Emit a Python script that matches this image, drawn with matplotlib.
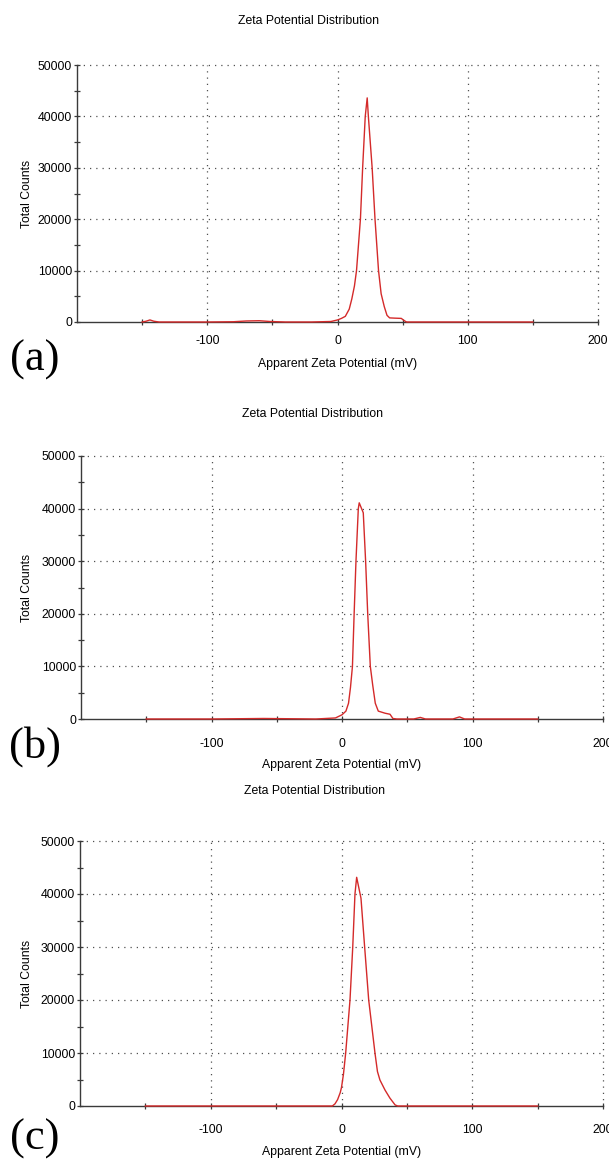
import matplotlib
matplotlib.use("Agg")
import matplotlib.pyplot as plt
import numpy as np

plt.rcParams['font.family'] = ['Liberation Sans Narrow', 'Liberation Sans', 'DejaVu Sans']

# ---------------- data ----------------
title_text = "Zeta Potential Distribution"
xlabel_text = "Apparent Zeta Potential (mV)"
ylabel_text = "Total Counts"
panel_labels = ["(a)", "(b)", "(c)"]

x_major = [-150, -100, -50, 0, 50, 100, 150, 200]
x_ticklabels = ["", "-100", "", "0", "", "100", "", "200"]
y_major = [0, 10000, 20000, 30000, 40000, 50000]
y_minor = [5000, 15000, 25000, 35000, 45000]
x_grid = [-100, 0, 100, 200]
y_grid = [10000, 20000, 30000, 40000, 50000]

# panel (a)
a_mv = [-150, -147, -144, -141, -137, -120, -100, -80, -70, -60, -52, -40, -20, -5,
        0, 3, 6, 9, 11, 13, 14.6, 17.6, 19.3, 21.3, 22.8, 23.7, 26.6, 28.8, 31.5,
        33.5, 35.9, 38, 40, 44, 49, 51, 53, 70, 100, 130, 150]
a_counts = [0, 150, 400, 150, 0, 0, 0, 50, 200, 250, 100, 0, 0, 100,
            400, 700, 1100, 2500, 4500, 7000, 10000, 20000, 30000, 40000, 43600, 40000, 30000, 20000, 10000,
            5500, 3000, 1300, 800, 750, 700, 300, 0, 0, 0, 0, 0]

# panel (b)
b_mv = [-150, -120, -100, -60, -20, -5, 0, 3, 5, 6.5, 8, 9.3, 10.7, 12.5, 13.2, 16.3,
        18.1, 19.7, 21.7, 23.5, 25.5, 27.8, 33, 36.8, 39, 42, 55, 60, 64, 85, 90, 94, 120, 150]
b_counts = [0, 0, 0, 100, 0, 200, 800, 1500, 3000, 6000, 10000, 20000, 30000, 40000, 41100, 39200,
            30000, 20000, 10000, 6500, 3000, 1500, 1100, 900, 100, 0, 0, 300, 0, 0, 400, 0, 0, 0]

# panel (c)
c_mv = [-150, -100, -50, -7, -5, -3, -1, 0, 1.5, 3.2, 6.5, 8.6, 10.3, 11.6, 14.9, 17.7,
        20.8, 25.6, 27.5, 29.4, 33.3, 37, 41, 43, 80, 120, 150]
c_counts = [0, 0, 0, 0, 400, 1200, 2500, 3500, 6000, 10000, 20000, 30000, 40000, 43150, 39200, 30000,
            20000, 10000, 6500, 4900, 3000, 1500, 200, 0, 0, 0, 0]

series = [(a_mv, a_counts), (b_mv, b_counts), (c_mv, c_counts)]

# ---------------- layout (pixel geometry of the reference) ----------------
W, H = 609, 1162
# left, right, top, bottom (pixels from top-left)
boxes = [(77, 598, 65, 322), (81, 603, 456, 719), (80, 603, 841, 1106)]
title_y = [21, 414, 791]
title_x = [309, 312, 314]
xlabel_y = [364, 765, 1152]
panel_y = [360, 747, 1139]
xtick_pad = [6.5, 11, 10.5]
fs = 8.8

line_color = '#d42a2a'
axis_color = '#3a3a3a'
grid_color = '#505050'

fig = plt.figure(figsize=(W / 100, H / 100), dpi=100)
fig.patch.set_facecolor('white')

for i, ((x0, x1, y0, y1), (mv, cnt)) in enumerate(zip(boxes, series)):
    ax = fig.add_axes([x0 / W, 1 - y1 / H, (x1 - x0) / W, (y1 - y0) / H])
    ax.set_xlim(-200, 200)
    ax.set_ylim(0, 50000)

    for gx in x_grid:
        ax.axvline(gx, color=grid_color, lw=0.9, linestyle=(0, (1, 4)), clip_on=False, zorder=1)
    for gy in y_grid:
        ax.axhline(gy, color=grid_color, lw=0.9, linestyle=(0, (1, 4)), clip_on=False, zorder=1)

    ax.plot(mv, cnt, color=line_color, lw=1.0, zorder=4, clip_on=False)

    for s in ['top', 'right']:
        ax.spines[s].set_visible(False)
    for s in ['left', 'bottom']:
        ax.spines[s].set_color(axis_color)
        ax.spines[s].set_linewidth(1.0)
        ax.spines[s].set_zorder(3)

    ax.set_xticks(x_major)
    ax.set_xticklabels(x_ticklabels)
    ax.set_yticks(y_major)
    ax.set_yticklabels([str(v) for v in y_major])
    ax.set_yticks(y_minor, minor=True)
    ax.tick_params(axis='x', which='major', direction='inout', length=5, width=0.9,
                   color=axis_color, labelsize=fs, pad=xtick_pad[i])
    ax.tick_params(axis='y', which='major', direction='inout', length=4, width=0.9,
                   color=axis_color, labelsize=fs, pad=1.5)
    ax.tick_params(axis='y', which='minor', direction='inout', length=4, width=0.9,
                   color=axis_color)

    pw = x1 - x0
    ph = y1 - y0
    ax.set_title(title_text, fontsize=fs, x=(title_x[i] - x0) / pw,
                 y=(y1 - title_y[i]) / ph, va='center', pad=0)
    ax.set_xlabel(xlabel_text, fontsize=fs)
    ax.xaxis.set_label_coords(0.5, (y1 - xlabel_y[i]) / ph)
    ax.xaxis.label.set_verticalalignment('center')
    ax.set_ylabel(ylabel_text, fontsize=fs)
    ax.yaxis.set_label_coords((27 - x0) / pw, 0.5)
    ax.yaxis.label.set_verticalalignment('center')

    fig.text(35 / W, 1 - panel_y[i] / H, panel_labels[i], fontsize=32,
             family=['Liberation Serif', 'DejaVu Serif'], ha='center', va='center')

fig.savefig('out.png', dpi=100, facecolor='white')
